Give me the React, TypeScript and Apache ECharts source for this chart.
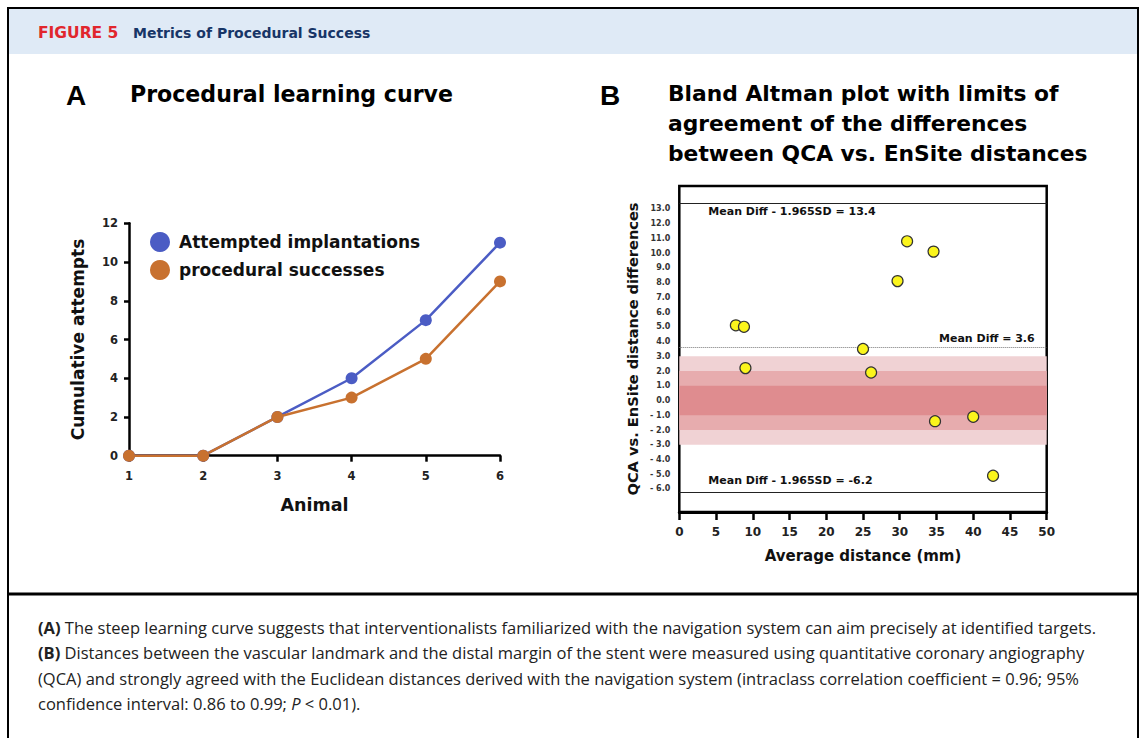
import React, { useEffect, useRef } from "react";
import * as echarts from "echarts";

const animals = ["1", "2", "3", "4", "5", "6"];
const attempted = [0, 0, 2, 4, 7, 11];
const successes = [0, 0, 2, 3, 5, 9];
const yTicksA = [0, 2, 4, 6, 8, 10, 12];

const baAvg = [7.7, 8.8, 9.0, 25.0, 26.1, 29.7, 31.0, 34.6, 34.8, 40.0, 42.7];
const baDiff = [5.1, 5.0, 2.2, 3.5, 1.9, 8.1, 10.8, 10.1, -1.4, -1.1, -5.1];
const yTicksB = [-6, -5, -4, -3, -2, -1, 0, 1, 2, 3, 4, 5, 6, 7, 8, 9, 10, 11, 12, 13];
const upperLimit = 13.4;
const meanDiff = 3.6;
const lowerLimit = -6.2;
const bands = [3, 2, 1];
const bandColors = ["#f0d2d4", "#e7acae", "#df8c8f"];

const captionLines = [
  "{b|(A)} The steep learning curve suggests that interventionalists familiarized with the navigation system can aim precisely at identified targets.",
  "{b|(B)} Distances between the vascular landmark and the distal margin of the stent were measured using quantitative coronary angiography",
  "(QCA) and strongly agreed with the Euclidean distances derived with the navigation system (intraclass correlation coefficient = 0.96; 95%",
  "confidence interval: 0.86 to 0.99; {i|P} < 0.01).",
];

const F = "DejaVu Sans";
const CF = "Open Sans";
const BLUE = "#4b5cc4";
const ORANGE = "#c8712f";

export default function App() {
  const ref = useRef<HTMLDivElement>(null);
  useEffect(() => {
    if (!ref.current) return;
    const chart = echarts.init(ref.current, undefined, { renderer: "svg" });
    const fmtB = (v: number) => (v < 0 ? "- " + Math.abs(v).toFixed(1) : v.toFixed(1));
    chart.setOption({
      animation: false,
      textStyle: { fontFamily: F },
      legend: {
        data: ["Attempted implantations", "procedural successes"],
        orient: "vertical",
        left: 145,
        top: 227,
        icon: "circle",
        itemWidth: 20,
        itemHeight: 20,
        itemGap: 8,
        textStyle: { fontSize: 17, fontWeight: "bold", color: "#111", fontFamily: F, padding: [0, 0, 0, 4] },
      },
      grid: [
        { left: 129, width: 371, top: 223.3, height: 232.4, containLabel: false },
        {
          left: 679.3,
          width: 367.4,
          top: 186,
          height: 326,
          show: true,
          borderColor: "#000",
          borderWidth: 2.5,
          backgroundColor: "transparent",
        },
      ],
      xAxis: [
        {
          gridIndex: 0,
          type: "category",
          data: animals,
          boundaryGap: false,
          axisLine: { lineStyle: { color: "#000", width: 2.5 } },
          axisTick: { show: true, length: 6, lineStyle: { color: "#000", width: 2.5 } },
          axisLabel: { fontSize: 11.5, fontWeight: "bold", color: "#222", margin: 14, fontFamily: F },
          name: "Animal",
          nameLocation: "middle",
          nameGap: 40,
          nameTextStyle: { fontSize: 17.5, fontWeight: "bold", color: "#111", fontFamily: F },
        },
        {
          gridIndex: 1,
          type: "value",
          min: 0,
          max: 50,
          interval: 5,
          splitLine: { show: false },
          axisLine: { show: true, onZero: false, lineStyle: { color: "#000", width: 3 } },
          axisTick: { show: true, length: 8, lineStyle: { color: "#000", width: 2.5 } },
          axisLabel: { fontSize: 12, fontWeight: "bold", color: "#222", margin: 14, fontFamily: F },
          name: "Average distance (mm)",
          nameLocation: "middle",
          nameGap: 36,
          nameTextStyle: { fontSize: 15, fontWeight: "bold", color: "#111", fontFamily: F },
        },
      ],
      yAxis: [
        {
          gridIndex: 0,
          type: "value",
          min: 0,
          max: 12,
          interval: 2,
          splitLine: { show: false },
          axisLine: { show: true, lineStyle: { color: "#000", width: 2.5 } },
          axisTick: { show: true, length: 5, lineStyle: { color: "#000", width: 2.5 }, customValues: yTicksA },
          axisLabel: { fontSize: 11.5, fontWeight: "bold", color: "#222", margin: 11, fontFamily: F, customValues: yTicksA },
          name: "Cumulative attempts",
          nameLocation: "middle",
          nameGap: 43,
          nameTextStyle: { fontSize: 17, fontWeight: "bold", color: "#111", fontFamily: F },
        },
        {
          gridIndex: 1,
          type: "value",
          min: -7.56,
          max: 14.55,
          splitLine: { show: false },
          axisLine: { show: false },
          axisTick: { show: false },
          axisLabel: {
            fontSize: 8,
            fontWeight: "bold",
            color: "#333",
            margin: 9,
            fontFamily: F,
            customValues: yTicksB,
            formatter: fmtB,
          },
          name: "QCA vs. EnSite distance differences",
          nameLocation: "middle",
          nameGap: 39,
          nameTextStyle: { fontSize: 14.6, fontWeight: "bold", color: "#111", fontFamily: F },
        },
      ],
      series: [
        {
          name: "Attempted implantations",
          type: "line",
          xAxisIndex: 0,
          yAxisIndex: 0,
          data: attempted,
          symbol: "circle",
          symbolSize: 12,
          lineStyle: { color: BLUE, width: 2.5 },
          itemStyle: { color: BLUE },
        },
        {
          name: "procedural successes",
          type: "line",
          xAxisIndex: 0,
          yAxisIndex: 0,
          data: successes,
          symbol: "circle",
          symbolSize: 12,
          lineStyle: { color: ORANGE, width: 2.5 },
          itemStyle: { color: ORANGE },
        },
        {
          name: "Bland Altman",
          type: "scatter",
          xAxisIndex: 1,
          yAxisIndex: 1,
          data: baAvg.map((x, i) => [x, baDiff[i]]),
          symbolSize: 11,
          itemStyle: { color: "#fbf51c", borderColor: "#333", borderWidth: 1.2, opacity: 1 },
          z: 5,
          markArea: {
            silent: true,
            data: bands.map((b, i) => [
              { yAxis: -b, itemStyle: { color: bandColors[i], opacity: 1 } },
              { yAxis: b },
            ]),
          },
          markLine: {
            silent: true,
            symbol: ["none", "none"],
            label: { show: false },
            data: [
              { yAxis: upperLimit, lineStyle: { type: "solid", color: "#222", width: 1.2 } },
              { yAxis: meanDiff, lineStyle: { type: "dotted", color: "#777", width: 1 } },
              { yAxis: lowerLimit, lineStyle: { type: "solid", color: "#222", width: 1.2 } },
            ],
          },
        },
      ],
    });

    const pU = chart.convertToPixel({ xAxisIndex: 1, yAxisIndex: 1 }, [0, upperLimit]) as number[];
    const pM = chart.convertToPixel({ xAxisIndex: 1, yAxisIndex: 1 }, [50, meanDiff]) as number[];
    const pL = chart.convertToPixel({ xAxisIndex: 1, yAxisIndex: 1 }, [0, lowerLimit]) as number[];

    const limFont = { fontSize: 11, fontWeight: "bold", fontFamily: F, fill: "#111" };
    const graphic: any[] = [
      { type: "rect", shape: { x: 9, y: 9, width: 1128, height: 45 }, style: { fill: "#dfeaf6" }, silent: true },
      { type: "rect", shape: { x: 8, y: 8, width: 1130, height: 760 }, style: { fill: "none", stroke: "#000", lineWidth: 2 }, silent: true },
      { type: "line", shape: { x1: 8, y1: 594, x2: 1138, y2: 594 }, style: { stroke: "#000", lineWidth: 3 }, silent: true },
      {
        type: "text", x: 38, y: 33,
        style: { text: "FIGURE 5", fontSize: 15.5, fontWeight: "bold", fontFamily: "DejaVu Sans", fill: "#e1262d", verticalAlign: "middle" },
      },
      {
        type: "text", x: 133, y: 33,
        style: { text: "Metrics of Procedural Success", fontSize: 14, fontWeight: "bold", fontFamily: F, fill: "#173567", verticalAlign: "middle" },
      },
      {
        type: "text", x: 66, y: 95,
        style: { text: "A", fontSize: 28, fontWeight: "bold", fontFamily: "Liberation Sans", fill: "#000", verticalAlign: "middle" },
      },
      {
        type: "text", x: 130, y: 94,
        style: { text: "Procedural learning curve", fontSize: 22.1, fontWeight: "bold", fontFamily: F, fill: "#000", verticalAlign: "middle" },
      },
      {
        type: "text", x: 600, y: 95,
        style: { text: "B", fontSize: 28, fontWeight: "bold", fontFamily: "Liberation Sans", fill: "#000", verticalAlign: "middle" },
      },
      ...["Bland Altman plot with limits of", "agreement of the differences", "between QCA vs. EnSite distances"].map((t, i) => ({
        type: "text", x: 668, y: 93 + i * 30,
        style: { text: t, fontSize: 21.8, fontWeight: "bold", fontFamily: F, fill: "#000", verticalAlign: "middle" },
      })),
      {
        type: "text", x: pU[0] + 29, y: pU[1] + 9, z: 10,
        style: { text: "Mean Diff - 1.965SD = " + upperLimit.toFixed(1), ...limFont, verticalAlign: "middle" },
      },
      {
        type: "text", x: pM[0] - 12, y: pM[1] - 9, z: 10,
        style: { text: "Mean Diff = " + meanDiff.toFixed(1), ...limFont, align: "right", verticalAlign: "middle" },
      },
      {
        type: "text", x: pL[0] + 29, y: pL[1] - 11, z: 10,
        style: { text: "Mean Diff - 1.965SD = " + lowerLimit.toFixed(1), ...limFont, verticalAlign: "middle" },
      },
      ...captionLines.map((t, i) => ({
        type: "text", x: 38, y: 627 + i * 25.5,
        style: {
          text: t,
          fontSize: 16.5,
          fontFamily: CF,
          fill: "#222",
          verticalAlign: "middle",
          rich: {
            b: { fontSize: 16.5, fontFamily: CF, fontWeight: "bold", fill: "#222" },
            i: { fontSize: 16.5, fontFamily: CF, fontStyle: "italic", fill: "#222" },
          },
        },
      })),
    ];
    chart.setOption({ graphic: { elements: graphic } });

    return () => chart.dispose();
  }, []);
  return (
    <div
      ref={ref}
      style={{ position: "absolute", left: 0, top: 0, width: 1142, height: 738, background: "#fff" }}
    />
  );
}
